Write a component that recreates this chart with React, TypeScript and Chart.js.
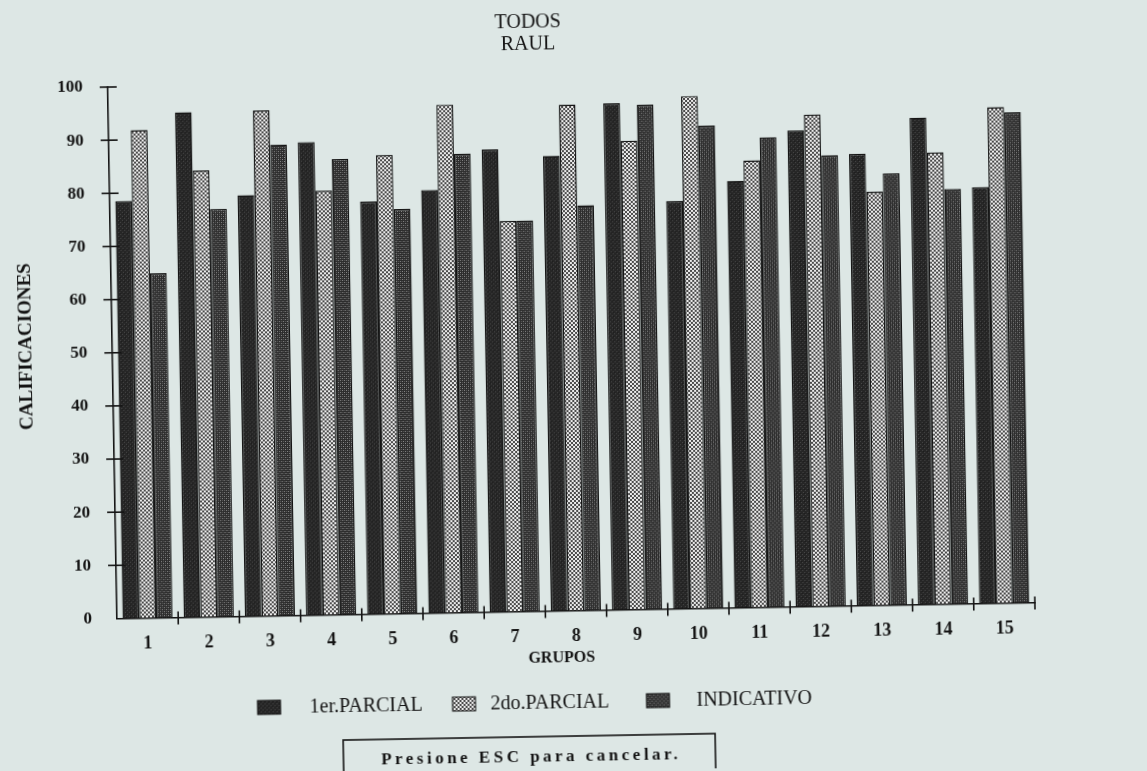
import React, { useEffect, useRef } from "react";
import { Chart, registerables } from "chart.js";

Chart.register(...registerables);

const CATEGORIES = ["1", "2", "3", "4", "5", "6", "7", "8", "9", "10", "11", "12", "13", "14", "15"];
const PARCIAL_1 = [78.5, 95, 79.2, 89, 77.6, 79.6, 87, 85.6, 95.3, 76.7, 80.3, 89.6, 85, 91.6, 78.3];
const PARCIAL_2 = [91.8, 84, 95.1, 79.8, 86.3, 95.6, 73.5, 95.2, 88.2, 96.4, 84.1, 92.5, 77.8, 85, 93.3];
const INDICATIVO = [64.8, 76.7, 88.6, 85.7, 76.1, 86.3, 73.5, 76.2, 94.9, 90.8, 88.4, 84.8, 81.2, 78.1, 92.3];
const SERIES_NAMES = ["1er.PARCIAL", "2do.PARCIAL", "INDICATIVO"];
const TITLE_LINES = ["TODOS", "RAUL"];
const X_TITLE = "GRUPOS";
const Y_TITLE = "CALIFICACIONES";
const ESC_TEXT = "Presione ESC para cancelar.";

const BG = "#dde7e5";
const INK = "#141414";
const SERIF = "'Liberation Serif', 'DejaVu Serif', serif";

function makePattern(kind: number): CanvasPattern | string {
  const t = document.createElement("canvas");
  t.width = 4;
  t.height = 4;
  const c = t.getContext("2d");
  if (!c) return "#444";
  if (kind === 0) {
    c.fillStyle = "#262626";
    c.fillRect(0, 0, 4, 4);
    c.fillStyle = "#474747";
    c.fillRect(1, 0, 1, 1);
    c.fillRect(3, 2, 1, 1);
    c.fillStyle = "#1a1a1a";
    c.fillRect(2, 1, 1, 1);
  } else if (kind === 1) {
    c.fillStyle = "#ececec";
    c.fillRect(0, 0, 4, 4);
    c.fillStyle = "#4a4a4a";
    c.fillRect(0, 0, 2, 2);
    c.fillRect(2, 2, 2, 2);
  } else {
    c.fillStyle = "#2c2c2c";
    c.fillRect(0, 0, 4, 4);
    c.fillStyle = "#8e8e8e";
    c.fillRect(0, 0, 1, 1);
    c.fillRect(2, 2, 1, 1);
    c.fillStyle = "#5a5a5a";
    c.fillRect(2, 0, 1, 1);
    c.fillRect(0, 2, 1, 1);
  }
  const p = c.createPattern(t, "repeat");
  return p || "#444";
}

export default function App() {
  const ref = useRef<HTMLCanvasElement | null>(null);

  useEffect(() => {
    const canvas = ref.current;
    if (!canvas) return;
    const patterns = [makePattern(0), makePattern(1), makePattern(2)];

    const decor = {
      id: "decor",
      afterDraw(chart: any) {
        const ctx = chart.ctx as CanvasRenderingContext2D;
        const { left, right, bottom } = chart.chartArea;
        const ys = chart.scales.y;
        const xs = chart.scales.x;
        ctx.save();
        ctx.strokeStyle = INK;
        ctx.lineWidth = 1.6;
        // y ticks crossing the axis
        for (let v = 10; v <= 100; v += 10) {
          const py = ys.getPixelForValue(v);
          ctx.beginPath();
          ctx.moveTo(left - 8, py);
          ctx.lineTo(left + 9, py);
          ctx.stroke();
        }
        // x ticks at category boundaries
        const step = (right - left) / CATEGORIES.length;
        for (let i = 1; i <= CATEGORIES.length; i++) {
          const px = xs.getPixelForValue(i - 1) + step / 2;
          ctx.beginPath();
          ctx.moveTo(px, bottom - 6);
          ctx.lineTo(px, bottom + 7);
          ctx.stroke();
        }
        ctx.fillStyle = INK;
        ctx.textAlign = "center";
        ctx.textBaseline = "middle";
        // title
        ctx.font = `20px ${SERIF}`;
        ctx.fillText(TITLE_LINES[0], 534, 22);
        ctx.fillText(TITLE_LINES[1], 534, 44);
        // y title
        ctx.save();
        ctx.translate(27, 337);
        ctx.rotate(-Math.PI / 2);
        ctx.font = `bold 19px ${SERIF}`;
        ctx.fillText(Y_TITLE, 0, 0);
        ctx.restore();
        // x title
        ctx.font = `bold 16px ${SERIF}`;
        ctx.fillText(X_TITLE, 557, 658);
        // legend
        const boxX = [252, 447, 641];
        const textX = [304, 485, 691];
        ctx.textAlign = "left";
        ctx.font = `20px ${SERIF}`;
        for (let i = 0; i < 3; i++) {
          ctx.fillStyle = patterns[i] as any;
          ctx.fillRect(boxX[i], 695, 23, 14);
          ctx.strokeStyle = INK;
          ctx.lineWidth = 1;
          ctx.strokeRect(boxX[i], 695, 23, 14);
          ctx.fillStyle = INK;
          ctx.fillText(SERIES_NAMES[i], textX[i], 703);
        }
        // ESC box
        ctx.lineWidth = 1.6;
        ctx.strokeStyle = INK;
        ctx.strokeRect(337, 736, 372, 60);
        ctx.font = `bold 17px ${SERIF}`;
        (ctx as any).letterSpacing = "0px";
        const w0 = ctx.measureText(ESC_TEXT).width;
        const sp = Math.max(0, (300 - w0) / ESC_TEXT.length);
        (ctx as any).letterSpacing = `${sp.toFixed(2)}px`;
        ctx.textAlign = "center";
        ctx.fillText(ESC_TEXT, 523 + sp / 2, 757);
        (ctx as any).letterSpacing = "0px";
        ctx.restore();
      },
    };

    const chart = new Chart(canvas, {
      type: "bar",
      data: {
        labels: CATEGORIES,
        datasets: [
          { label: SERIES_NAMES[0], data: PARCIAL_1, backgroundColor: patterns[0] as any, borderColor: INK, borderWidth: 1.4, borderSkipped: "bottom" },
          { label: SERIES_NAMES[1], data: PARCIAL_2, backgroundColor: patterns[1] as any, borderColor: INK, borderWidth: 1.4, borderSkipped: "bottom" },
          { label: SERIES_NAMES[2], data: INDICATIVO, backgroundColor: patterns[2] as any, borderColor: INK, borderWidth: 1.4, borderSkipped: "bottom" },
        ],
      },
      options: {
        responsive: false,
        animation: false,
        devicePixelRatio: 1,
        layout: { padding: { left: 0, top: 79, right: 116, bottom: 110.5 } },
        datasets: { bar: { categoryPercentage: 0.82, barPercentage: 1.0 } } as any,
        plugins: {
          legend: { display: false },
          title: { display: false },
          tooltip: { enabled: false },
        },
        scales: {
          x: {
            grid: { display: false, drawTicks: false },
            border: { display: true, color: INK, width: 1.6 },
            ticks: { color: INK, font: { family: SERIF, size: 18, weight: "bold" }, padding: 15, maxRotation: 0, autoSkip: false },
            afterFit: (s: any) => { s.height = 50; },
          },
          y: {
            min: 0,
            max: 100,
            grid: { display: false, drawTicks: false },
            border: { display: true, color: INK, width: 1.6 },
            ticks: { stepSize: 10, color: INK, font: { family: SERIF, size: 17, weight: "bold" }, padding: 25 },
            afterFit: (s: any) => { s.width = 113; },
          },
        },
      },
      plugins: [decor],
    });
    return () => chart.destroy();
  }, []);

  return (
    <div style={{ position: "fixed", left: 0, top: 0, width: 1147, height: 771, background: BG, overflow: "hidden" }}>
      <canvas
        ref={ref}
        width={1147}
        height={771}
        style={{ position: "absolute", left: 0, top: 0, width: 1147, height: 771, transform: "rotate(-1deg)", transformOrigin: "573.5px 385.5px" }}
      />
    </div>
  );
}
